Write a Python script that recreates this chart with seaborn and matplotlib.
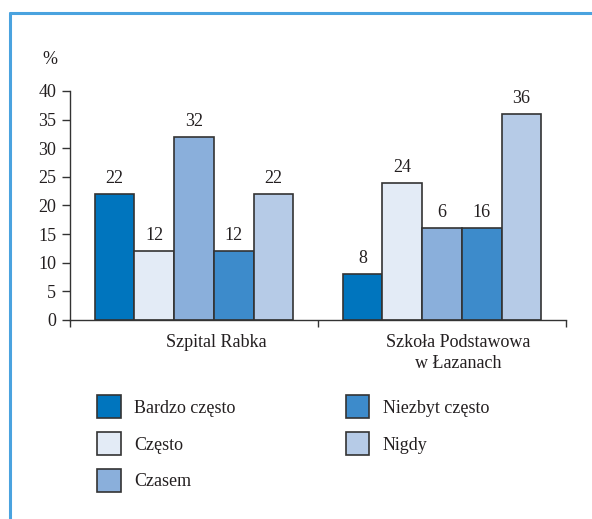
import pandas as pd
import matplotlib
matplotlib.use("Agg")
import matplotlib.pyplot as plt
import seaborn as sns
from matplotlib.lines import Line2D
from matplotlib.transforms import ScaledTranslation

places = ["Szpital Rabka", "Szkoła Podstawowa\nw Łazanach"]
answers = ["Bardzo często", "Często", "Czasem", "Niezbyt często", "Nigdy"]
rabka = [22, 12, 32, 12, 22]
szkola = [8, 24, 16, 16, 36]
# labels as printed on the original (one says "6" above a 16 bar)
rabka_labels = ["22", "12", "32", "12", "22"]
szkola_labels = ["8", "24", "6", "16", "36"]
colors = ["#0075be", "#e3ebf6", "#8aafdb", "#3d8bcb", "#b6cbe7"]

rows = []
for a, v1, v2 in zip(answers, rabka, szkola):
    rows.append([places[0], a, v1])
    rows.append([places[1], a, v2])
df = pd.DataFrame(rows, columns=["Miejsce", "Odpowiedź", "Procent"])

sns.set_style("ticks")
plt.rcParams["font.family"] = "serif"
plt.rcParams["font.serif"] = ["Liberation Serif", "DejaVu Serif"]
txt = "#231f20"
edge = "#333333"

fig = plt.figure(figsize=(5.92, 5.19), dpi=100)
ax = fig.add_axes([70 / 592, 1 - 320 / 519, 496 / 592, 229 / 519])

sns.barplot(data=df, x="Miejsce", y="Procent", hue="Odpowiedź",
            order=places, hue_order=answers, palette=colors, saturation=1,
            edgecolor=edge, linewidth=1.2, width=0.8, ax=ax)

for cont, lab1, lab2 in zip(ax.containers, rabka_labels, szkola_labels):
    ax.bar_label(cont, labels=[lab1, lab2], padding=5, fontsize=13, color=txt)

ax.set_ylim(0, 40)
ax.set_xlim(-0.5, 1.5)
ax.set_yticks(range(0, 41, 5))
ax.set_xlabel("")
ax.set_ylabel("")
ax.set_xticks([-0.5, 0.5, 1.5], minor=True)
ax.tick_params(axis="x", which="major", length=0, pad=10, labelsize=13, labelcolor=txt)
ax.tick_params(axis="x", which="minor", length=5, width=1, color=edge, direction="out")
ax.tick_params(axis="y", length=6, width=1, pad=4, labelsize=13, labelcolor=txt, color=edge)
for lab, dx in zip(ax.get_xticklabels(), [22, 16]):
    lab.set_transform(lab.get_transform() + ScaledTranslation(dx / 100, 0, fig.dpi_scale_trans))
    lab.set_linespacing(1.3)
sns.despine(ax=ax)
for s in ["left", "bottom"]:
    ax.spines[s].set_color(edge)
    ax.spines[s].set_linewidth(1)

fig.text(42 / 592, 1 - 59 / 519, "%", fontsize=13, color=txt, va="center")

handles, labels = ax.get_legend_handles_labels()
ax.get_legend().remove()
fig.legend(handles, labels, ncol=2, loc="upper left",
           bbox_to_anchor=(81 / 592, 1 - 379 / 519), frameon=False,
           fontsize=13, handlelength=1.3, handleheight=1.6,
           handletextpad=0.75, columnspacing=6.1, labelspacing=0.75,
           labelcolor=txt)

# blue frame of the original page
frame = "#4aa3df"
fig.add_artist(Line2D([10 / 592, 10 / 592], [0, 1 - 13 / 519], color=frame, lw=2.2))
fig.add_artist(Line2D([10 / 592, 1], [1 - 13 / 519, 1 - 13 / 519], color=frame, lw=2.2))

fig.savefig("out.png", dpi=100)
